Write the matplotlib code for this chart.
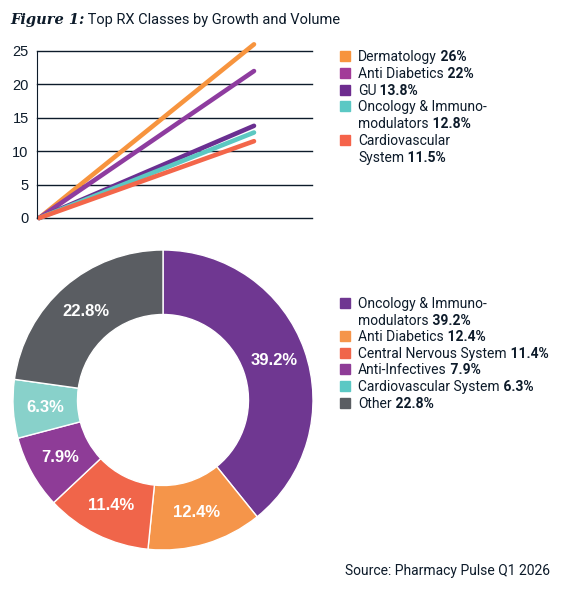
import numpy as np
import matplotlib.pyplot as plt
from matplotlib.patches import Rectangle
from matplotlib.text import Annotation

# line chart data
line_names = ['Dermatology', 'Anti Diabetics', 'GU', 'Oncology & Immuno-\nmodulators', 'Cardiovascular\nSystem']
line_pct = ['26%', '22%', '13.8%', '12.8%', '11.5%']
line_vals = [26, 22, 13.8, 12.8, 11.5]
line_colors = ['#F7943E', '#8E3C9F', '#6A2F91', '#5CC8C2', '#F3664A']
legend1_colors = ['#F7943E', '#A23A98', '#6E2C8F', '#5BC8C4', '#F5634A']
yticks = [0, 5, 10, 15, 20, 25]

# donut data
pie_names = ['Oncology & Immuno-\nmodulators', 'Anti Diabetics', 'Central Nervous System',
             'Anti-Infectives', 'Cardiovascular System', 'Other']
pie_vals = [39.2, 12.4, 11.4, 7.9, 6.3, 22.8]
pie_colors = ['#6F3791', '#F5954A', '#F0654A', '#8E3C97', '#88D1CA', '#5A5D62']
legend2_colors = ['#6F3791', '#F5954A', '#F0654A', '#8E3C97', '#5BC8C4', '#5A5D62']

W, H = 564, 589
fig = plt.figure(figsize=(W / 100, H / 100), dpi=100)
SANS = 'Roboto'
NAVY = '#0D1B2A'


def fx(px):
    return px / W


def fy(py):
    return 1 - py / H


def after(t, s, **kw):
    # put text s right after text artist t, same bottom line
    a = Annotation(s, xy=(1, 0), xycoords=t, va='bottom', ha='left', color=NAVY, **kw)
    fig.add_artist(a)
    return a


def two_part(x, y, plain, bold, size=10):
    t = fig.text(x, y, plain, fontsize=size, family=SANS, color=NAVY, va='baseline')
    if bold:
        after(t, ' ' + bold, fontsize=size, family=SANS, fontweight='bold')


# title
t = fig.text(fx(10), fy(24), 'Figure 1:', fontsize=10.5, family='DejaVu Serif',
             style='italic', fontweight='bold', color=NAVY, va='baseline')
after(t, ' Top RX Classes by Growth and Volume', fontsize=10.5, family=SANS)

# line chart
ax = fig.add_axes([fx(37), fy(218), fx(312) - fx(37), fy(51) - fy(218)])
for v, c in zip(line_vals, line_colors):
    ax.plot([0, 1], [0, v], color=c, lw=3.3, solid_capstyle='round', clip_on=False)
ax.set_xlim(-0.01, 1.27)
ax.set_ylim(0, 25)
ax.set_yticks(yticks)
ax.set_xticks([])
for y in yticks:
    ax.axhline(y, color=NAVY, lw=1, zorder=0, clip_on=False)
for s in ['top', 'right', 'bottom']:
    ax.spines[s].set_visible(False)
ax.spines['left'].set_color(NAVY)
ax.tick_params(axis='y', length=0, pad=6, labelsize=10.5, labelcolor=NAVY)
for lab in ax.get_yticklabels():
    lab.set_family('Liberation Sans')

# legend 1
row = 56
for name, pct, c in zip(line_names, line_pct, legend1_colors):
    lines = name.split('\n')
    fig.add_artist(Rectangle((fx(340), fy(row + 5)), fx(10), fy(row - 5) - fy(row + 5),
                             transform=fig.transFigure, color=c))
    for i, ln in enumerate(lines):
        last = i == len(lines) - 1
        two_part(fx(358), fy(row + 5), ln, pct if last else None)
        row += 16.8

# donut
ax2 = fig.add_axes([fx(13), fy(550), fx(300), fx(300) * W / H])
ax2.pie(pie_vals, colors=pie_colors, startangle=90, counterclock=False,
        radius=1, wedgeprops=dict(width=0.43, edgecolor='white', linewidth=1))
ax2.set_xlim(-1, 1)
ax2.set_ylim(-1, 1)
ax2.set_aspect('equal')
cum = np.cumsum([0] + pie_vals[:-1])
for start, v in zip(cum, pie_vals):
    ang = np.deg2rad(90 - (start + v / 2) * 3.6)
    ax2.text(0.785 * np.cos(ang), 0.785 * np.sin(ang), f'{v}%', ha='center', va='center',
             color='white', fontweight='bold', fontsize=12, family='Liberation Sans')

# legend 2
row = 303
for name, v, c in zip(pie_names, pie_vals, legend2_colors):
    lines = name.split('\n')
    fig.add_artist(Rectangle((fx(340), fy(row + 5)), fx(10), fy(row - 5) - fy(row + 5),
                             transform=fig.transFigure, color=c))
    for i, ln in enumerate(lines):
        last = i == len(lines) - 1
        two_part(fx(358), fy(row + 5), ln, f'{v}%' if last else None)
        row += 16.6

# source
fig.text(fx(550), fy(575), 'Source: Pharmacy Pulse Q1 2026', ha='right', va='baseline',
         fontsize=10, family=SANS, color=NAVY)

fig.savefig('out.png', dpi=100)
